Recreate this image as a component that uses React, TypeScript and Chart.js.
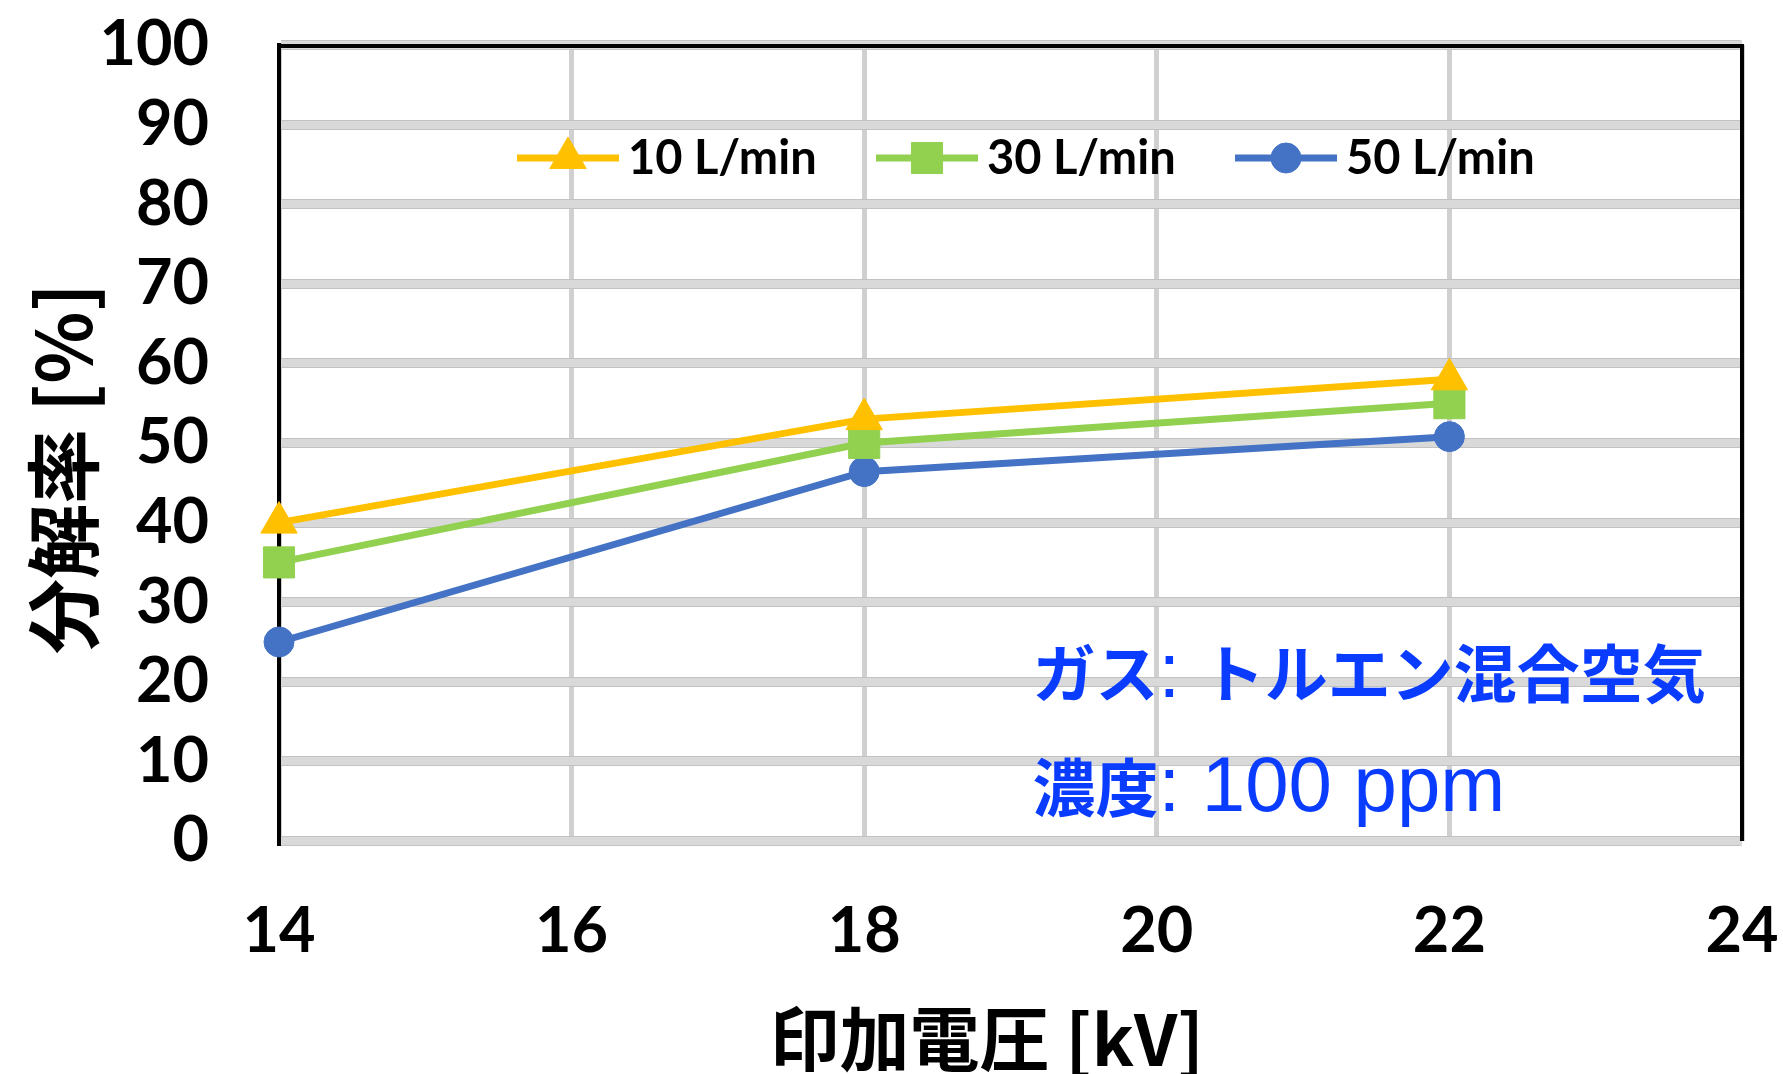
import React, { useEffect, useRef } from 'react';
import { Chart, registerables } from 'chart.js';
import { drawPoint } from 'chart.js/helpers';

Chart.register(...registerables);

// ---- data ----
const voltages = [14, 18, 22];
const rate10 = [40, 53, 58];
const rate30 = [35, 50, 55];
const rate50 = [25, 46.4, 50.8];
const seriesLabels = ['10 L/min', '30 L/min', '50 L/min'];
const xTicksRange = [14, 24];
const yTicksRange = [0, 100];
const yTitle = '分解率 [%]';
const xTitle = '印加電圧 [kV]';
const noteLine1 = ['ガス', ': ', 'トルエン混合空気'];
const noteLine2 = ['濃度', ': ', '100 ppm'];

const W = 1783;
const H = 1074;
const TICK_FONT = "Lato, 'Noto Sans', sans-serif";
const CJK_FONT = "'Noto Sans CJK JP', 'Noto Sans', sans-serif";
const LATIN_FONT = "'Liberation Sans', Arial, sans-serif";

const gridEdges = {
  id: 'gridEdges',
  beforeDatasetsDraw(chart: any) {
    const { ctx, chartArea } = chart;
    const ys = chart.scales.y;
    ctx.save();
    ctx.fillStyle = '#c2c2c2';
    ys.ticks.forEach((t: any) => {
      const p = Math.round(ys.getPixelForValue(t.value));
      ctx.fillRect(chartArea.left + 2, p - 5, chartArea.width - 4, 1);
      ctx.fillRect(chartArea.left + 2, p + 4, chartArea.width - 4, 1);
    });
    // top and right frame
    ctx.fillStyle = '#000';
    ctx.fillRect(chartArea.left - 2, Math.round(chartArea.top) - 1, chartArea.width + 4, 4);
    ctx.fillRect(Math.round(chartArea.right) - 2, chartArea.top - 1, 4, chartArea.height + 1);
    ctx.restore();
  },
};

const lineLegend = {
  id: 'lineLegend',
  afterDatasetsDraw(chart: any) {
    const { ctx, chartArea } = chart;
    ctx.save();
    chart.data.datasets.forEach((ds: any, i: number) => {
      const x0 = chartArea.left + 238 + i * 359;
      const y = chartArea.top + 113;
      ctx.strokeStyle = ds.borderColor;
      ctx.lineWidth = ds.borderWidth;
      ctx.beginPath();
      ctx.moveTo(x0, y);
      ctx.lineTo(x0 + 102, y);
      ctx.stroke();
      ctx.fillStyle = ds.pointBackgroundColor;
      ctx.strokeStyle = ds.pointBorderColor;
      ctx.lineWidth = 1;
      drawPoint(ctx, { pointStyle: ds.pointStyle, radius: ds.pointRadius, rotation: 0, borderWidth: 1 } as any, x0 + 51, y);
      ctx.fillStyle = '#000';
      ctx.font = `bold 47px ${TICK_FONT}`;
      ctx.textAlign = 'left';
      ctx.textBaseline = 'middle';
      ctx.fillText(ds.label, x0 + 111, y + 1);
    });
    ctx.restore();
  },
};

const notes = {
  id: 'notes',
  afterDatasetsDraw(chart: any) {
    const { ctx } = chart;
    const xs = chart.scales.x;
    const ys = chart.scales.y;
    ctx.save();
    ctx.fillStyle = '#0a3cff';
    ctx.textBaseline = 'alphabetic';
    ctx.textAlign = 'left';
    const drawRow = (parts: string[], baseline: number) => {
      let x = xs.getPixelForValue(19.15);
      parts.forEach((s) => {
        const isCjk = /[\u3000-\u9fff]/.test(s);
        ctx.font = isCjk ? `bold 63px ${CJK_FONT}` : `78px ${LATIN_FONT}`;
        ctx.fillText(s, x, baseline);
        x += ctx.measureText(s).width;
      });
    };
    drawRow(noteLine1, ys.getPixelForValue(18.1));
    drawRow(noteLine2, ys.getPixelForValue(3.8));
    ctx.restore();
  },
};

export default function App() {
  const ref = useRef<HTMLCanvasElement | null>(null);
  useEffect(() => {
    if (!ref.current) return;
    const mk = (vals: number[]) => voltages.map((v, i) => ({ x: v, y: vals[i] }));
    const chart = new Chart(ref.current, {
      type: 'line',
      data: {
        datasets: [
          {
            label: seriesLabels[0], data: mk(rate10), borderColor: '#FFC000', backgroundColor: '#FFC000',
            pointBackgroundColor: '#FFC000', pointBorderColor: '#FFC000', borderWidth: 7,
            pointStyle: 'triangle', pointRadius: 21, pointBorderWidth: 1, clip: false,
          },
          {
            label: seriesLabels[1], data: mk(rate30), borderColor: '#92D050', backgroundColor: '#92D050',
            pointBackgroundColor: '#92D050', pointBorderColor: '#92D050', borderWidth: 7,
            pointStyle: 'rect', pointRadius: 22, pointBorderWidth: 1, clip: false,
          },
          {
            label: seriesLabels[2], data: mk(rate50), borderColor: '#4472C4', backgroundColor: '#4472C4',
            pointBackgroundColor: '#4472C4', pointBorderColor: '#4472C4', borderWidth: 7,
            pointStyle: 'circle', pointRadius: 15, pointBorderWidth: 1, clip: false,
          },
        ] as any,
      },
      options: {
        responsive: false,
        animation: false,
        layout: { padding: { left: 0, right: 41, top: 45, bottom: 0 } },
        plugins: { legend: { display: false }, tooltip: { enabled: false } },
        scales: {
          x: {
            type: 'linear',
            min: xTicksRange[0],
            max: xTicksRange[1],
            ticks: {
              stepSize: 2,
              autoSkip: false,
              maxRotation: 0,
              color: '#000',
              padding: 53,
              font: { family: TICK_FONT, size: 63, weight: 'bold', lineHeight: 1.2 },
            },
            grid: { color: '#d0d0d0', lineWidth: 5, drawTicks: false },
            border: { display: false },
            title: {
              display: true,
              text: xTitle + '   ',
              color: '#000',
              padding: 0,
              font: { family: CJK_FONT, size: 70, weight: 'bold', lineHeight: 1 },
            },
            afterFit: (s: any) => {
              s.height = 233;
              s.paddingLeft = 0;
              s.paddingRight = 0;
            },
          },
          y: {
            min: yTicksRange[0],
            max: yTicksRange[1],
            ticks: {
              stepSize: 10,
              autoSkip: false,
              color: '#000',
              padding: 70,
              font: { family: TICK_FONT, size: 63, weight: 'bold', lineHeight: 1.2 },
            },
            grid: { color: '#d9d9d9', lineWidth: 10, drawTicks: false },
            border: { display: true, color: '#000', width: 4 },
            title: {
              display: true,
              text: yTitle + '   ',
              color: '#000',
              padding: { top: 18, bottom: 0 },
              font: { family: CJK_FONT, size: 75, weight: 'bold', lineHeight: 1.2 },
            },
            afterFit: (s: any) => {
              s.width = 279;
              s.paddingTop = 0;
              s.paddingBottom = 0;
            },
          },
        },
      } as any,
      plugins: [gridEdges, lineLegend, notes],
    });
    return () => chart.destroy();
  }, []);
  return (
    <div style={{ position: 'absolute', left: 0, top: 0, width: W, height: H, background: '#fff' }}>
      <canvas ref={ref} width={W} height={H} style={{ display: 'block', width: W, height: H }} />
    </div>
  );
}
